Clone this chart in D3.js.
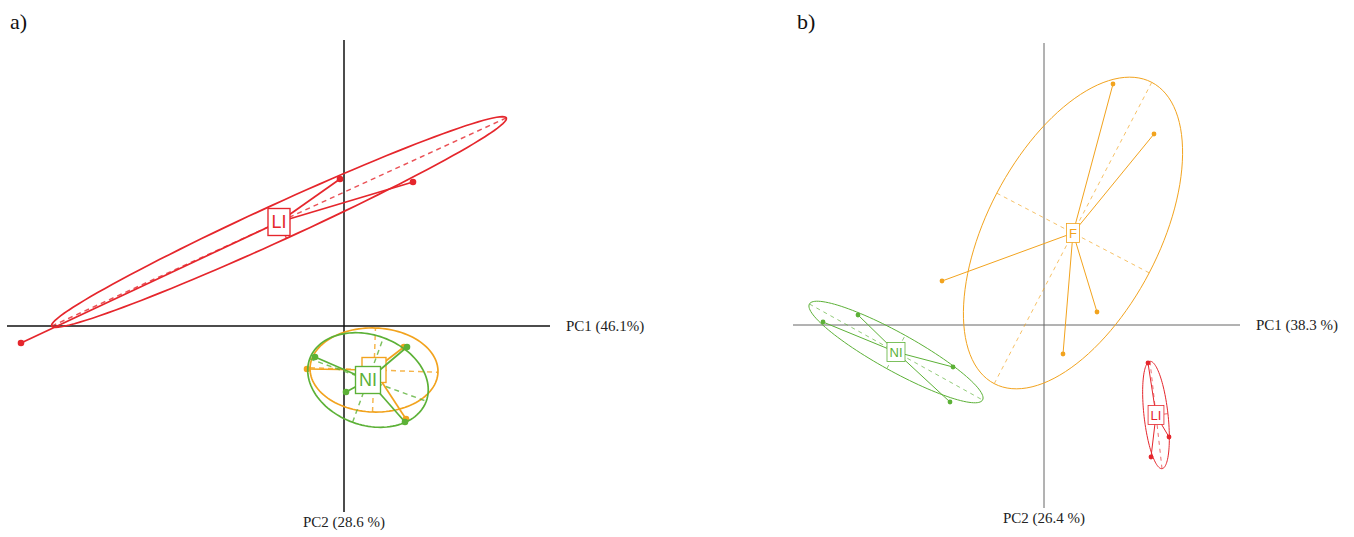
<!DOCTYPE html>
<html>
<head>
<meta charset="utf-8">
<script src="https://cdn.jsdelivr.net/npm/d3@7"></script>
<style>
  html, body { margin: 0; padding: 0; background: #fff; }
  svg { display: block; }
  .axlab { font-family: "Liberation Serif", "Times New Roman", serif; font-size: 15px; fill: #222; }
  .panel-tag { font-family: "Liberation Serif", "Times New Roman", serif; font-size: 22px; fill: #111; }
  .boxlab { font-family: "Liberation Sans", Arial, sans-serif; }
</style>
</head>
<body>
<div id="chart"></div>
<script>
// ---- panel a) scores (PC1, PC2) ----
const axisA = ["PC1 (46.1%)", "PC2 (28.6 %)"];
const pointsA_LI = [[-3.23, -0.17], [-0.04, 1.47], [0.69, 1.44]];
const pointsA_F  = [[-0.37, -0.43], [0.62, -0.93], [0.60, -0.21]];
const pointsA_NI = [[-0.29, -0.31], [0.63, -0.21], [0.02, -0.66], [0.61, -0.96]];
// ellipse: centre x, centre y, semi-major, semi-minor, angle (deg)
const ellipseA_LI = [-0.65, 1.04, 2.50, 0.18, 24.6];
const ellipseA_F  = [0.30, -0.44, 0.64, 0.42, -2];
const ellipseA_NI = [0.24, -0.54, 0.62, 0.45, -20];

// ---- panel b) ----
const axisB = ["PC1 (38.3 %)", "PC2 (26.4 %)"];
const pointsB_F  = [[0.69, 2.41], [1.10, 1.91], [-1.02, 0.44], [0.53, 0.13], [0.19, -0.29]];
const pointsB_NI = [[-2.21, 0.03], [-1.86, 0.10], [-0.91, -0.42], [-0.94, -0.77]];
const pointsB_LI = [[1.04, -0.38], [1.25, -1.12], [1.07, -1.32]];
const ellipseB_F  = [0.29, 0.92, 1.70, 0.86, 62.4];
const ellipseB_NI = [-1.48, -0.27, 0.99, 0.19, -29];
const ellipseB_LI = [1.12, -0.90, 0.54, 0.12, 96.4];

const red = "#e5262c", orange = "#f2a31e", green = "#5cb137";

const width = 1354, height = 537;
const svg = d3.select("#chart").append("svg")
    .attr("width", width).attr("height", height);

function ellipsePts(e, n) {
    var th = e[4] * Math.PI / 180;
    return d3.range(n).map(function(i) {
        var t = 2 * Math.PI * i / n;
        var u = e[2] * Math.cos(t), v = e[3] * Math.sin(t);
        return [e[0] + u * Math.cos(th) - v * Math.sin(th),
                e[1] + u * Math.sin(th) + v * Math.cos(th)];
    });
}

function axisEnds(e) {
    // major and minor axis end points of an ellipse
    var th = e[4] * Math.PI / 180;
    var c = Math.cos(th), s = Math.sin(th);
    return [
        [[e[0] - e[2] * c, e[1] - e[2] * s], [e[0] + e[2] * c, e[1] + e[2] * s]],
        [[e[0] + e[3] * s, e[1] - e[3] * c], [e[0] - e[3] * s, e[1] + e[3] * c]]
    ];
}

function drawPanel(cfg) {
    var g = svg.append("g");
    var x = d3.scaleLinear().domain(cfg.xDomain).range(cfg.xRange);
    var y = d3.scaleLinear().domain(cfg.yDomain).range(cfg.yRange);

    // axes through the origin
    g.append("line")
        .attr("x1", x(cfg.xDomain[0])).attr("x2", x(cfg.xDomain[1]))
        .attr("y1", y(0)).attr("y2", y(0))
        .attr("stroke", cfg.axisColor).attr("stroke-width", cfg.axisWidth);
    g.append("line")
        .attr("x1", x(0)).attr("x2", x(0))
        .attr("y1", y(cfg.yDomain[0])).attr("y2", y(cfg.yDomain[1]))
        .attr("stroke", cfg.axisColor).attr("stroke-width", cfg.axisWidth);
    g.append("text").attr("class", "axlab")
        .attr("x", x(cfg.xDomain[1]) + cfg.pc1Gap).attr("y", y(0) + 5)
        .text(cfg.axis[0]);
    g.append("text").attr("class", "axlab")
        .attr("x", x(0)).attr("y", y(cfg.yDomain[1]) + 15)
        .attr("text-anchor", "middle")
        .text(cfg.axis[1]);
    svg.append("text").attr("class", "panel-tag")
        .attr("x", cfg.tag[1]).attr("y", 29).text(cfg.tag[0]);

    var line = d3.line().x(function(d) { return x(d[0]); }).y(function(d) { return y(d[1]); });

    cfg.groups.forEach(function(grp) {
        var gg = g.append("g")
            .attr("stroke", grp.color).attr("fill", "none")
            .attr("stroke-width", cfg.lw);
        var e = grp.ellipse;
        gg.append("path")
            .attr("d", line.curve(d3.curveLinearClosed)(ellipsePts(e, 120)));
        line.curve(d3.curveLinear);
        axisEnds(e).forEach(function(seg) {
            gg.append("path").attr("d", line(seg))
                .attr("stroke-dasharray", cfg.dash)
                .attr("stroke-width", cfg.lw * 0.85)
                .attr("stroke-opacity", 0.8);
        });
        grp.points.forEach(function(p) {
            gg.append("path").attr("d", line([[e[0], e[1]], p]));
        });
        gg.selectAll("circle").data(grp.points).join("circle")
            .attr("cx", function(d) { return x(d[0]); })
            .attr("cy", function(d) { return y(d[1]); })
            .attr("r", cfg.r).attr("fill", grp.color).attr("stroke", "none");

        // label box at the centre
        var lb = gg.append("g");
        var rect = lb.append("rect").attr("fill", "#fff")
            .attr("stroke-width", cfg.lw * 0.8);
        if (grp.hidden) {
            // label sits under another group's box; only its frame peeks out
            rect.attr("x", x(e[0]) - 12).attr("y", y(e[1]) - 12.5)
                .attr("width", 24).attr("height", 25);
            return;
        }
        var txt = lb.append("text").attr("class", "boxlab")
            .attr("x", x(e[0])).attr("y", y(e[1]))
            .attr("text-anchor", "middle").attr("dominant-baseline", "central")
            .attr("font-size", cfg.fs).attr("fill", grp.color).attr("stroke", "none")
            .text(grp.name);
        var bb = txt.node().getBBox();
        rect.attr("x", bb.x - cfg.padX).attr("y", y(e[1]) - cfg.boxH / 2)
            .attr("width", bb.width + 2 * cfg.padX).attr("height", cfg.boxH);
    });
}

drawPanel({
    tag: ["a)", 10],
    axis: axisA,
    xDomain: [-3.37, 2.06], xRange: [7, 550],
    yDomain: [2.86, -1.86], yRange: [40, 512],
    axisColor: "#111", axisWidth: 1.5, pc1Gap: 16,
    lw: 1.7, r: 3.3, dash: "5,4", fs: 18, padX: 3.5, boxH: 27,
    groups: [
        { name: "LI", color: red, points: pointsA_LI, ellipse: ellipseA_LI },
        { name: "F", color: orange, points: pointsA_F, ellipse: ellipseA_F, hidden: true },
        { name: "NI", color: green, points: pointsA_NI, ellipse: ellipseA_NI }
    ]
});

drawPanel({
    tag: ["b)", 797],
    axis: axisB,
    xDomain: [-2.51, 1.96], xRange: [793, 1240],
    yDomain: [2.82, -1.83], yRange: [43, 508],
    axisColor: "#666", axisWidth: 1, pc1Gap: 16,
    lw: 1, r: 2.4, dash: "4,4", fs: 13, padX: 2.5, boxH: 19,
    groups: [
        { name: "F", color: orange, points: pointsB_F, ellipse: ellipseB_F },
        { name: "NI", color: green, points: pointsB_NI, ellipse: ellipseB_NI },
        { name: "LI", color: red, points: pointsB_LI, ellipse: ellipseB_LI }
    ]
});
</script>
</body>
</html>
